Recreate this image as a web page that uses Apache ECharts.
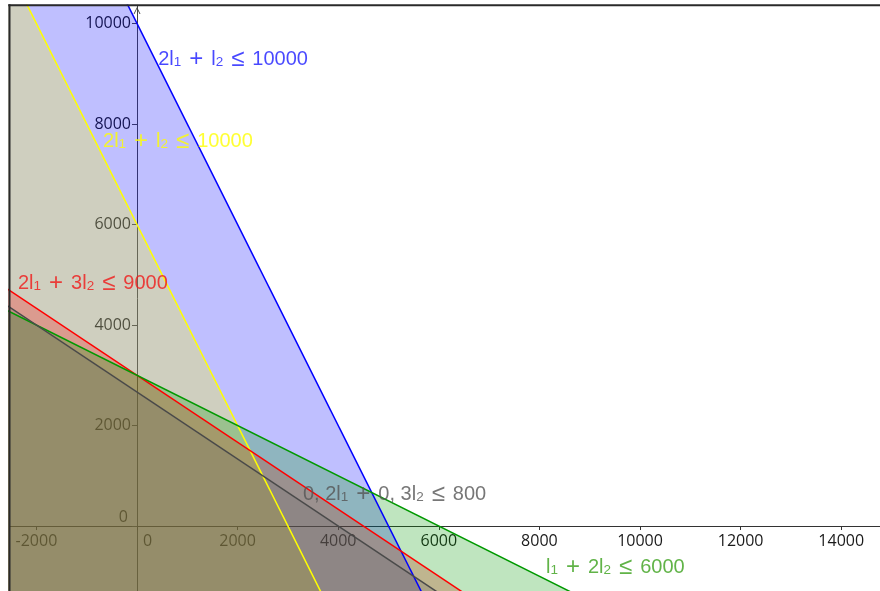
<!DOCTYPE html>
<html>
<head>
<meta charset="utf-8">
<script src="https://cdn.jsdelivr.net/npm/echarts@6/dist/echarts.min.js"></script>
<style>
html,body{margin:0;padding:0;background:#fff;}
#chart{width:880px;height:591px;}
</style>
</head>
<body>
<div id="chart"></div>
<script>
// ---- data ----
// each boundary line given by two far-apart points (l1, l2)
const lineX      = [-3000, 15000];
const blueY      = [16000, -20000];   // 2l1 + l2 = 10000
const yellowY    = [12000, -24000];   // 2l1 + l2 = 6000
const redY       = [5000, -7000];     // 2l1 + 3l2 = 9000
const greenY     = [4500, -4500];     // l1 + 2l2 = 6000
const blackY     = [4666.67, -7333.33]; // 0.2l1 + 0.3l2 = 800

const seriesNames  = ['blue', 'yellow', 'red', 'green', 'black'];
const seriesYs     = [blueY, yellowY, redY, greenY, blackY];
const fillColors   = ['#0000ff', '#ffff00', '#ff0000', '#009900', '#666666'];
const strokeColors = ['#0000ff', '#ffff00', '#ff0000', '#009900', '#4a4a4a'];

const labelTexts = [
  '{m|2l}{s|1}{o|+}{m|l}{s|2}{o|≤}{m|10000}',
  '{m|2l}{s|1}{o|+}{m|l}{s|2}{o|≤}{m|10000}',
  '{m|2l}{s|1}{o|+}{m|3l}{s|2}{o|≤}{m|9000}',
  '{m|l}{s|1}{o|+}{m|2l}{s|2}{o|≤}{m|6000}',
  '{m|0, 2l}{s|1}{o|+}{m|0, 3l}{s|2}{o|≤}{m|800}'
];
const labelAnchors = [[420, 9290], [-676, 7650], [-2366, 4836], [8131, -816], [3300, 637]];
const labelColors  = ['#1a1aff', '#ffff00', '#f01818', '#3aa01a', '#555555'];

const xRange = [-2535, 14791];
const yRange = [-1313, 10362];
const tickStep = 2000;

// ---- layout ----
const gridBox = {left: 9.5, top: 5.3, width: 871.5, height: 586.7};
// move the axes onto the zero lines of each other
const yAxisOffset = -((0 - xRange[0]) / (xRange[1] - xRange[0]) * gridBox.width);
const xAxisOffset = -((0 - yRange[0]) / (yRange[1] - yRange[0]) * gridBox.height);

// ---- chart ----
const chart = echarts.init(document.getElementById('chart'), null, {renderer: 'canvas'});

const tickFont = {fontFamily: 'Open Sans', fontSize: 16, color: '#1a1a1a'};
const mathFont = 'Liberation Sans';

function makeRich(color) {
  return {
    m: {fontFamily: mathFont, fontSize: 20, color: color},
    o: {fontFamily: mathFont, fontSize: 24, color: color, padding: [0, 8, 0, 8]},
    s: {fontFamily: mathFont, fontSize: 13.5, color: color, padding: [6, 0, 0, 0]}
  };
}

const series = [];
seriesYs.forEach((ys, i) => {
  series.push({
    name: seriesNames[i],
    type: 'line',
    data: lineX.map((x, k) => [x, ys[k]]),
    showSymbol: false,
    symbol: 'none',
    clip: true,
    silent: true,
    lineStyle: {color: strokeColors[i], width: 1.5},
    itemStyle: {color: strokeColors[i]},
    areaStyle: {color: fillColors[i], opacity: 0.25, origin: 'start'},
    z: 2
  });
});
labelAnchors.forEach((p, i) => {
  series.push({
    type: 'scatter',
    data: [p],
    symbolSize: 0,
    silent: true,
    clip: false,
    z: 10,
    label: {
      show: true,
      position: 'right',
      distance: 0,
      formatter: labelTexts[i],
      rich: makeRich(labelColors[i])
    }
  });
});

chart.setOption({
  animation: false,
  backgroundColor: '#ffffff',
  grid: Object.assign({containLabel: false, outerBoundsMode: 'none'}, gridBox),
  xAxis: {
    type: 'value',
    position: 'bottom',
    offset: xAxisOffset,
    min: xRange[0], max: xRange[1],
    minInterval: tickStep, maxInterval: tickStep, splitNumber: 8,
    axisLine: {onZero: false, lineStyle: {color: '#333333', width: 1}},
    axisTick: {show: true, length: 4, lineStyle: {color: '#333333'}},
    splitLine: {show: false},
    axisLabel: Object.assign({
      margin: 7,
      showMinLabel: false, showMaxLabel: false,
      formatter: v => (v === 0 ? '{z|0}' : (v % tickStep === 0 ? String(v) : '')),
      rich: {z: Object.assign({padding: [0, 0, 0, 21]}, tickFont)}
    }, tickFont)
  },
  yAxis: {
    type: 'value',
    position: 'left',
    offset: yAxisOffset,
    min: yRange[0], max: yRange[1],
    minInterval: tickStep, maxInterval: tickStep, splitNumber: 5,
    axisLine: {
      onZero: false,
      lineStyle: {color: '#444444', width: 1},
      symbol: ['none', 'path://M0,10 L5,0 L10,10 L8.6,10 L5,2.6 L1.4,10 Z'],
      symbolSize: [11, 7],
      symbolOffset: [0, -5.2]
    },
    axisTick: {show: true, length: 5, lineStyle: {color: '#444444'}},
    splitLine: {show: false},
    axisLabel: Object.assign({
      margin: 6,
      showMinLabel: false, showMaxLabel: false,
      formatter: v => (v === 0 ? '{z|0}' : (v % tickStep === 0 ? String(v) : '')),
      rich: {z: Object.assign({padding: [0, 3, 17, 0]}, tickFont)}
    }, tickFont)
  },
  graphic: [
    {type: 'line', shape: {x1: 8.3, y1: 5.3, x2: 880, y2: 5.3}, style: {stroke: '#2a2a2a', lineWidth: 2}, z: 100, silent: true},
    {type: 'line', shape: {x1: 9.5, y1: 4.3, x2: 9.5, y2: 591}, style: {stroke: '#2a2a2a', lineWidth: 2}, z: 100, silent: true}
  ],
  series: series
});
</script>
</body>
</html>
